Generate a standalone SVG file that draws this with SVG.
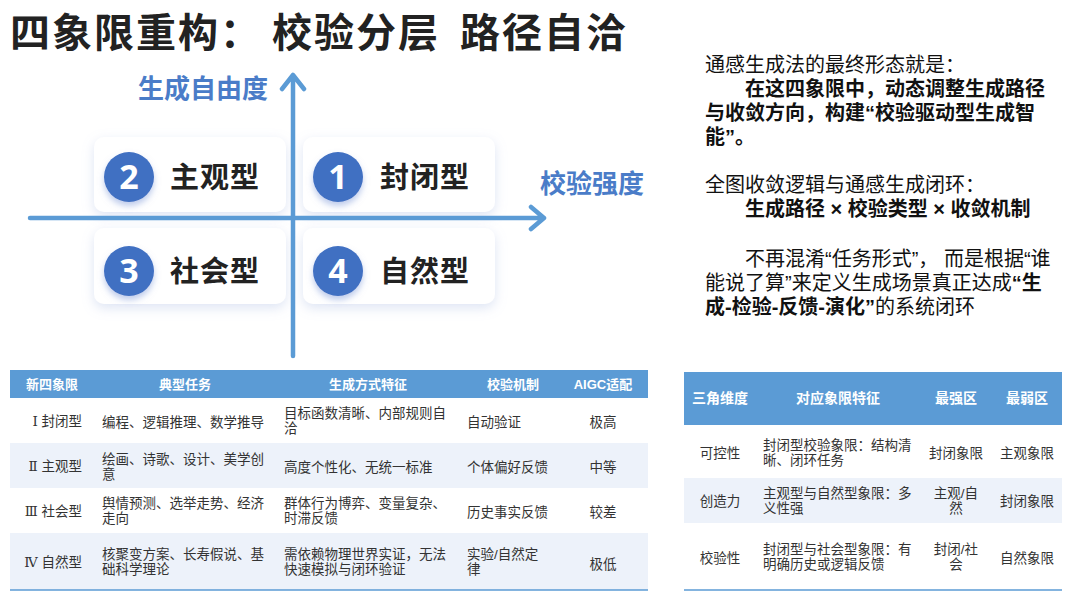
<svg xmlns="http://www.w3.org/2000/svg" width="1080" height="608" viewBox="0 0 1080 608">
<defs>
<style>
.t{font-family:"Liberation Sans","Noto Sans CJK SC",sans-serif;}
.title{font-family:"Noto Sans CJK SC",sans-serif;font-size:40px;font-weight:700;fill:#222;letter-spacing:2px;}
.axl{font-family:"Noto Sans CJK SC",sans-serif;font-size:26px;font-weight:700;fill:#4a7cc8;}
.ql{font-family:"Noto Sans CJK SC",sans-serif;font-size:29px;font-weight:700;fill:#222;letter-spacing:1px;}
.num{font-family:"Noto Sans","Liberation Sans",sans-serif;font-size:34px;font-weight:700;fill:#fff;text-anchor:middle;}
.body{font-size:20px;fill:#111;}
.b{font-weight:700;}
.th{font-size:13px;font-weight:700;fill:#fff;text-anchor:middle;}
.th2{font-size:14px;font-weight:700;fill:#fff;text-anchor:middle;}
.td{font-size:13.5px;fill:#333;}
.mid{text-anchor:middle;}
.end{text-anchor:end;}
.axis{stroke:#5b9bd5;stroke-width:4.5;fill:none;stroke-linecap:round;stroke-linejoin:round;}
.card{fill:#fff;filter:url(#sh);}
.circ{fill:#3f6fc2;filter:url(#sh2);}
.hdr{fill:#5b9bd5;}
.alt{fill:#edf2fa;}
.bl{stroke:#5b9bd5;stroke-width:1.5;}
</style>
<filter id="sh" x="-20%" y="-30%" width="140%" height="170%">
<feDropShadow dx="0" dy="4" stdDeviation="6" flood-color="#9fb3e0" flood-opacity="0.35"/>
</filter>
<filter id="sh2" x="-40%" y="-40%" width="180%" height="190%">
<feDropShadow dx="0" dy="4" stdDeviation="3" flood-color="#7c98d8" flood-opacity="0.5"/>
</filter>
</defs>
<rect width="1080" height="608" fill="#fff"/>

<g id="title">
<text class="title" y="47"><tspan x="10">四象限重构：</tspan><tspan x="272">校验分层</tspan><tspan x="460">路径自洽</tspan></text>
</g>

<g id="q2">
<rect class="card" x="94" y="137" width="192" height="75" rx="10"/>
<circle class="circ" cx="129" cy="177" r="25"/>
<text class="num" x="129" y="189">2</text>
<text class="ql" x="170" y="188">主观型</text>
</g>
<g id="q1">
<rect class="card" x="303" y="137" width="192" height="75" rx="10"/>
<circle class="circ" cx="338" cy="177" r="25"/>
<text class="num" x="338" y="189">1</text>
<text class="ql" x="380" y="188">封闭型</text>
</g>
<g id="q3">
<rect class="card" x="94" y="228" width="192" height="76" rx="10"/>
<circle class="circ" cx="129" cy="271" r="25"/>
<text class="num" x="129" y="283">3</text>
<text class="ql" x="170" y="282">社会型</text>
</g>
<g id="q4">
<rect class="card" x="303" y="228" width="192" height="76" rx="10"/>
<circle class="circ" cx="338" cy="271" r="25"/>
<text class="num" x="338" y="283">4</text>
<text class="ql" x="380" y="282">自然型</text>
</g>

<g id="connectors">
<path class="axis" d="M293 356 L293 75 M282 89 L293 75 L304 89"/>
<path class="axis" d="M30 218 L544 218 M531 207 L544 218 L531 229"/>
<text class="axl" x="138" y="98">生成自由度</text>
<text class="axl" x="540" y="193">校验强度</text>
</g>

<g id="summary" class="t">
<text class="body" x="705" y="72">通感生成法的最终形态就是：</text>
<text class="body b" x="745" y="96">在这四象限中，动态调整生成路径</text>
<text class="body b" x="705" y="120">与收敛方向，构建“校验驱动型生成智</text>
<text class="body b" x="705" y="144">能”。</text>
<text class="body" x="705" y="192">全图收敛逻辑与通感生成闭环：</text>
<text class="body b" x="745" y="216">生成路径 × 校验类型 × 收敛机制</text>
<text class="body" x="745" y="266">不再混淆“任务形式”， 而是根据“谁</text>
<text class="body" x="705" y="290">能说了算”来定义生成场景真正达成<tspan class="b">“生</tspan></text>
<text class="body" x="705" y="314"><tspan class="b">成-检验-反馈-演化”</tspan>的系统闭环</text>
</g>

<g id="table-quadrants" class="t">
<rect class="hdr" x="10" y="370" width="638" height="28"/>
<rect fill="#fff" x="10" y="398" width="638" height="45"/>
<rect class="alt" x="10" y="443" width="638" height="45"/>
<rect fill="#fff" x="10" y="488" width="638" height="45"/>
<rect class="alt" x="10" y="533" width="638" height="57"/>
<line class="bl" x1="10" y1="590" x2="648" y2="590"/>
<text class="th" x="52" y="389">新四象限</text>
<text class="th" x="185" y="389">典型任务</text>
<text class="th" x="368" y="389">生成方式特征</text>
<text class="th" x="513" y="389">校验机制</text>
<text class="th" x="603" y="389">AIGC适配</text>

<text class="td end" x="82" y="426"><tspan font-family="DejaVu Serif,serif">Ⅰ</tspan> 封闭型</text>
<text class="td" x="102" y="427">编程、逻辑推理、数学推导</text>
<text class="td" x="284" y="418">目标函数清晰、内部规则自</text>
<text class="td" x="284" y="433">洽</text>
<text class="td" x="467" y="427">自动验证</text>
<text class="td mid" x="603" y="427">极高</text>

<text class="td end" x="82" y="471"><tspan font-family="DejaVu Serif,serif">Ⅱ</tspan> 主观型</text>
<text class="td" x="102" y="464">绘画、诗歌、设计、美学创</text>
<text class="td" x="102" y="479">意</text>
<text class="td" x="284" y="472">高度个性化、无统一标准</text>
<text class="td" x="467" y="472">个体偏好反馈</text>
<text class="td mid" x="603" y="472">中等</text>

<text class="td end" x="82" y="516"><tspan font-family="DejaVu Serif,serif">Ⅲ</tspan> 社会型</text>
<text class="td" x="102" y="508">舆情预测、选举走势、经济</text>
<text class="td" x="102" y="523">走向</text>
<text class="td" x="284" y="508">群体行为博弈、变量复杂、</text>
<text class="td" x="284" y="523">时滞反馈</text>
<text class="td" x="467" y="517">历史事实反馈</text>
<text class="td mid" x="603" y="517">较差</text>

<text class="td end" x="82" y="567"><tspan font-family="DejaVu Serif,serif">Ⅳ</tspan> 自然型</text>
<text class="td" x="102" y="559">核聚变方案、长寿假说、基</text>
<text class="td" x="102" y="574">础科学理论</text>
<text class="td" x="284" y="559">需依赖物理世界实证，无法</text>
<text class="td" x="284" y="574">快速模拟与闭环验证</text>
<text class="td" x="467" y="559">实验/自然定</text>
<text class="td" x="467" y="574">律</text>
<text class="td mid" x="603" y="569">极低</text>
</g>

<g id="table-triangle" class="t">
<rect class="hdr" x="684" y="372" width="378" height="53"/>
<rect fill="#fff" x="684" y="425" width="378" height="53"/>
<rect class="alt" x="684" y="478" width="378" height="45"/>
<rect fill="#fff" x="684" y="523" width="378" height="67"/>
<line class="bl" x1="684" y1="590" x2="1062" y2="590"/>
<text class="th2" x="720" y="403">三角维度</text>
<text class="th2" x="838" y="403">对应象限特征</text>
<text class="th2" x="956" y="403">最强区</text>
<text class="th2" x="1027" y="403">最弱区</text>

<text class="td mid" x="720" y="458">可控性</text>
<text class="td" x="763" y="450">封闭型校验象限：结构清</text>
<text class="td" x="763" y="465">晰、闭环任务</text>
<text class="td mid" x="956" y="458">封闭象限</text>
<text class="td mid" x="1027" y="458">主观象限</text>

<text class="td mid" x="720" y="506">创造力</text>
<text class="td" x="763" y="498">主观型与自然型象限：多</text>
<text class="td" x="763" y="513">义性强</text>
<text class="td mid" x="956" y="498">主观/自</text>
<text class="td mid" x="956" y="513">然</text>
<text class="td mid" x="1027" y="506">封闭象限</text>

<text class="td mid" x="720" y="563">校验性</text>
<text class="td" x="763" y="554">封闭型与社会型象限：有</text>
<text class="td" x="763" y="569">明确历史或逻辑反馈</text>
<text class="td mid" x="956" y="554">封闭/社</text>
<text class="td mid" x="956" y="569">会</text>
<text class="td mid" x="1027" y="563">自然象限</text>
</g>
</svg>
